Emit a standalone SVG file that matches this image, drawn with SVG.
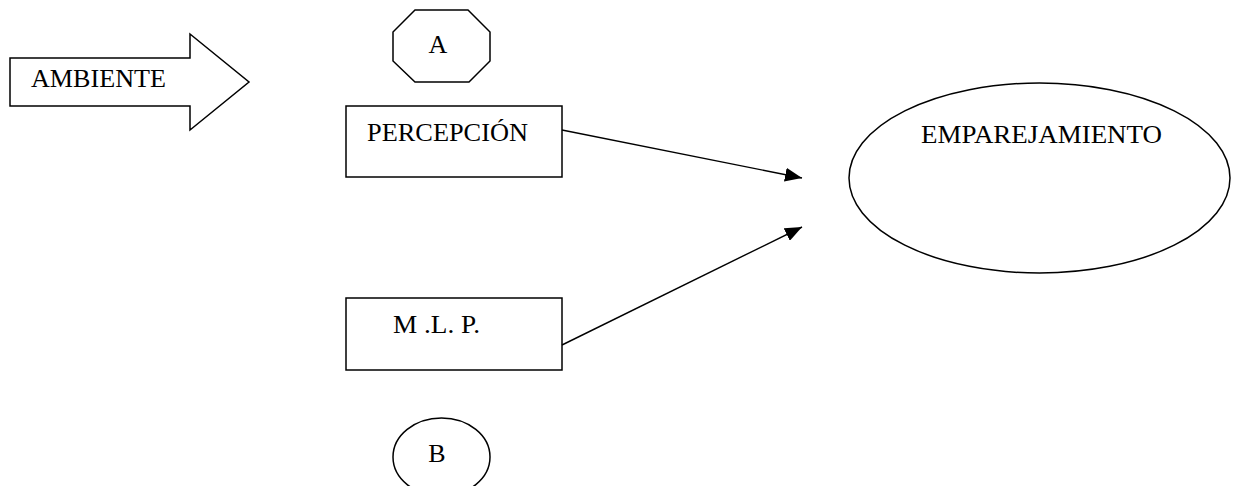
<svg xmlns="http://www.w3.org/2000/svg" width="1236" height="486" viewBox="0 0 1236 486">
<style>
.s{fill:#fff;stroke:#000;stroke-width:1.5}
.t{font-family:"Liberation Serif","Times New Roman",serif;font-size:26px;fill:#000}
.c{stroke:#000;stroke-width:1.4;fill:none}
</style>
<defs>
<marker id="ah" markerUnits="userSpaceOnUse" markerWidth="18" markerHeight="14" refX="17" refY="7" orient="auto">
<path d="M0,0 L17,7 L0,14 Z" fill="#000"/>
</marker>
</defs>
<rect width="1236" height="486" fill="#fff"/>
<g id="ambiente">
<path class="s" d="M10,58 L190,58 L190,34 L249,82 L190,130 L190,106 L10,106 Z"/>
<text class="t" x="31" y="87" textLength="135" lengthAdjust="spacingAndGlyphs">AMBIENTE</text>
</g>
<g id="nodeA">
<polygon class="s" points="415,10 468,10 490,32 490,61 469,82 415,82 393,61 393,32"/>
<text class="t" x="438" y="53" text-anchor="middle">A</text>
</g>
<g id="percepcion">
<rect class="s" x="346" y="106" width="216" height="71"/>
<text class="t" x="367" y="141" textLength="161" lengthAdjust="spacingAndGlyphs">PERCEPCIÓN</text>
</g>
<g id="mlp">
<rect class="s" x="346" y="298" width="216" height="72"/>
<text class="t" x="393" y="333" textLength="87" lengthAdjust="spacingAndGlyphs">M .L. P.</text>
</g>
<g id="nodeB">
<ellipse class="s" cx="441.5" cy="457" rx="48.5" ry="39"/>
<text class="t" x="437" y="462" text-anchor="middle">B</text>
</g>
<g id="emparejamiento">
<ellipse class="s" cx="1039.5" cy="178" rx="190.5" ry="95"/>
<text class="t" x="921" y="143" textLength="241" lengthAdjust="spacingAndGlyphs">EMPAREJAMIENTO</text>
</g>
<g id="connectors">
<line class="c" x1="562" y1="130" x2="802" y2="178" marker-end="url(#ah)"/>
<line class="c" x1="562" y1="345" x2="802" y2="227" marker-end="url(#ah)"/>
</g>
</svg>
